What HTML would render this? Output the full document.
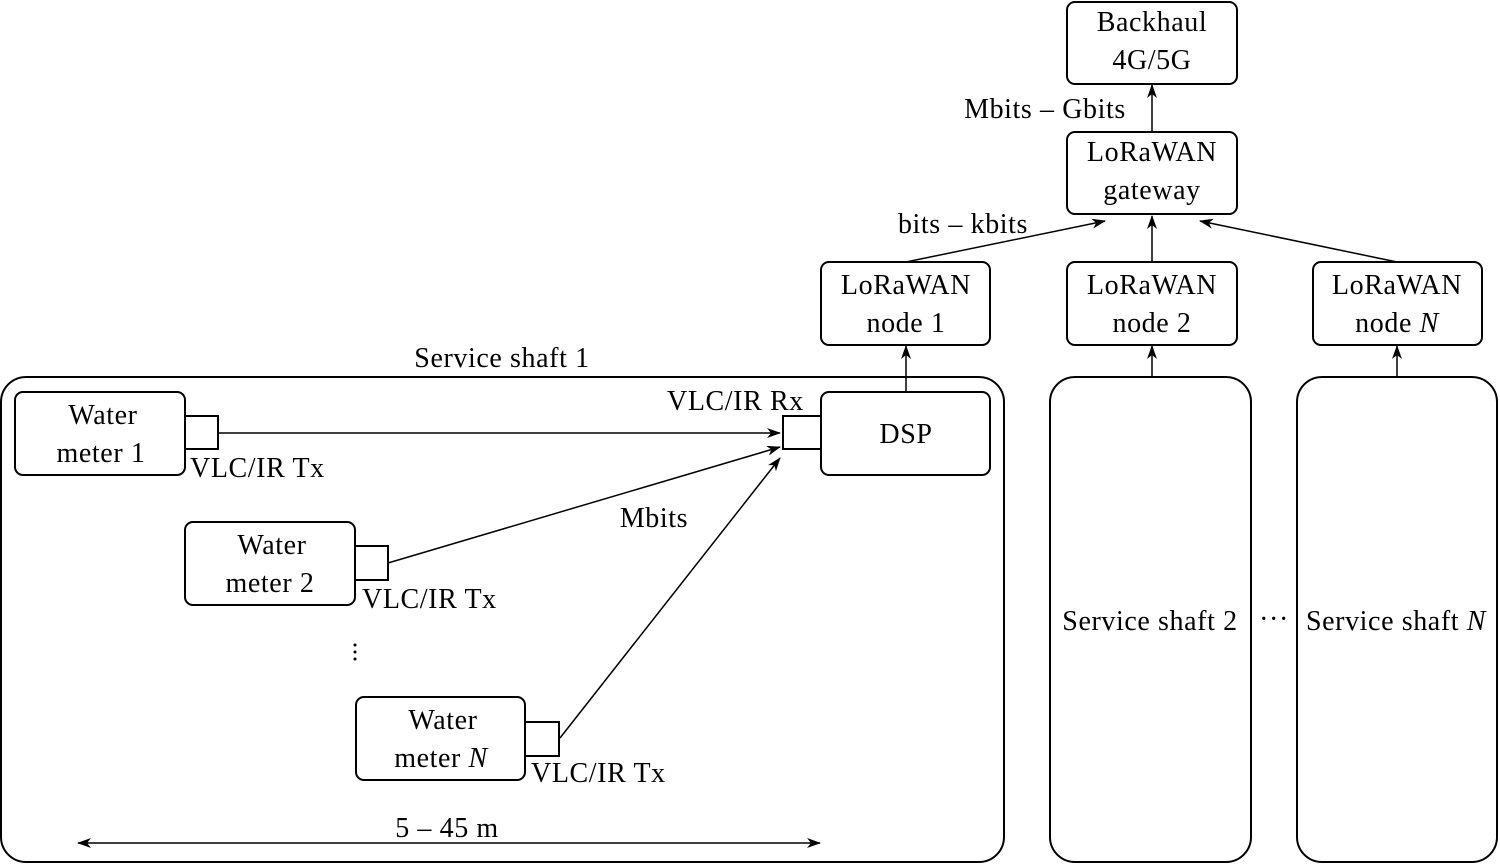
<!DOCTYPE html>
<html><head><meta charset="utf-8"><style>
html,body{margin:0;padding:0;background:#fff;}
svg{display:block;}
text{font-family:"Liberation Serif",serif;font-size:28px;letter-spacing:0.6px;fill:#000;}
</style></head><body>
<svg width="1500" height="867" viewBox="0 0 1500 867" xmlns="http://www.w3.org/2000/svg">
<defs>
<marker id="a" markerWidth="14" markerHeight="10" refX="13" refY="5" orient="auto" markerUnits="userSpaceOnUse">
<path d="M0,0 L14,5 L0,10 L4,5 z" fill="#000"/></marker>
<marker id="b" markerWidth="14" markerHeight="10" refX="1" refY="5" orient="auto" markerUnits="userSpaceOnUse">
<path d="M14,0 L0,5 L14,10 L10,5 z" fill="#000"/></marker>
</defs>
<g fill="none" stroke="#000" stroke-width="2">
<rect x="1067" y="2" width="170" height="82" rx="8"/>
<rect x="1067" y="132" width="170" height="82" rx="8"/>
<rect x="821" y="262" width="169" height="83" rx="8"/>
<rect x="1067" y="262" width="170" height="83" rx="8"/>
<rect x="1313" y="262" width="169" height="83" rx="8"/>
<rect x="1" y="377" width="1003" height="485" rx="25"/>
<rect x="1050" y="377" width="201" height="485" rx="25"/>
<rect x="1297" y="377" width="200" height="485" rx="25"/>
<rect x="15" y="392" width="170" height="83" rx="8"/>
<rect x="185" y="416" width="33" height="33"/>
<rect x="821" y="392" width="169" height="83" rx="8"/>
<rect x="783" y="416" width="38" height="33"/>
<rect x="185" y="522" width="170" height="83" rx="8"/>
<rect x="355" y="546" width="33" height="34"/>
<rect x="356" y="697" width="169" height="83" rx="8"/>
<rect x="525" y="722" width="34" height="34"/>
</g>
<g stroke="#000" stroke-width="1.5" fill="none" marker-end="url(#a)">
<line x1="1152" y1="132" x2="1152" y2="85"/>
<line x1="906" y1="262" x2="1105" y2="221"/>
<line x1="1152" y1="262" x2="1152" y2="216"/>
<line x1="1397" y1="262" x2="1200" y2="221"/>
<line x1="906" y1="392" x2="906" y2="346"/>
<line x1="1152" y1="377" x2="1152" y2="346"/>
<line x1="1397" y1="377" x2="1397" y2="346"/>
<line x1="218" y1="433" x2="780" y2="433"/>
<line x1="388" y1="563" x2="780" y2="447"/>
<line x1="560" y1="738" x2="780" y2="458"/>
<line x1="78" y1="843" x2="820" y2="843" marker-start="url(#b)"/>
</g>
<g text-anchor="middle">
<text x="1152" y="31">Backhaul</text>
<text x="1152" y="69">4G/5G</text>
<text x="1152" y="161">LoRaWAN</text>
<text x="1152" y="199">gateway</text>
<text x="1045" y="118">Mbits – Gbits</text>
<text x="963" y="233">bits – kbits</text>
<text x="906" y="294">LoRaWAN</text>
<text x="906" y="332">node 1</text>
<text x="1152" y="294">LoRaWAN</text>
<text x="1152" y="332">node 2</text>
<text x="1397" y="294">LoRaWAN</text>
<text x="1397" y="332">node <tspan font-style="italic">N</tspan></text>
<text x="502" y="367">Service shaft 1</text>
<text x="103" y="424">Water</text>
<text x="101" y="462">meter 1</text>
<text x="906" y="443">DSP</text>
<text x="272" y="554">Water</text>
<text x="270" y="592">meter 2</text>
<text x="443" y="729">Water</text>
<text x="441" y="767">meter <tspan font-style="italic">N</tspan></text>
<text x="654" y="527">Mbits</text>
<text x="447" y="837">5 – 45 m</text>
<text x="1150" y="630">Service shaft 2</text>
<text x="1396" y="630">Service shaft <tspan font-style="italic">N</tspan></text>
<text x="1274" y="628">···</text>
</g>
<text x="190" y="477">VLC/IR Tx</text>
<text x="362" y="608">VLC/IR Tx</text>
<text x="531" y="782">VLC/IR Tx</text>
<text x="667" y="410">VLC/IR Rx</text>
<g fill="#000"><circle cx="355" cy="645" r="1.5"/><circle cx="355" cy="652" r="1.5"/><circle cx="355" cy="659" r="1.5"/></g>
</svg>
</body></html>
